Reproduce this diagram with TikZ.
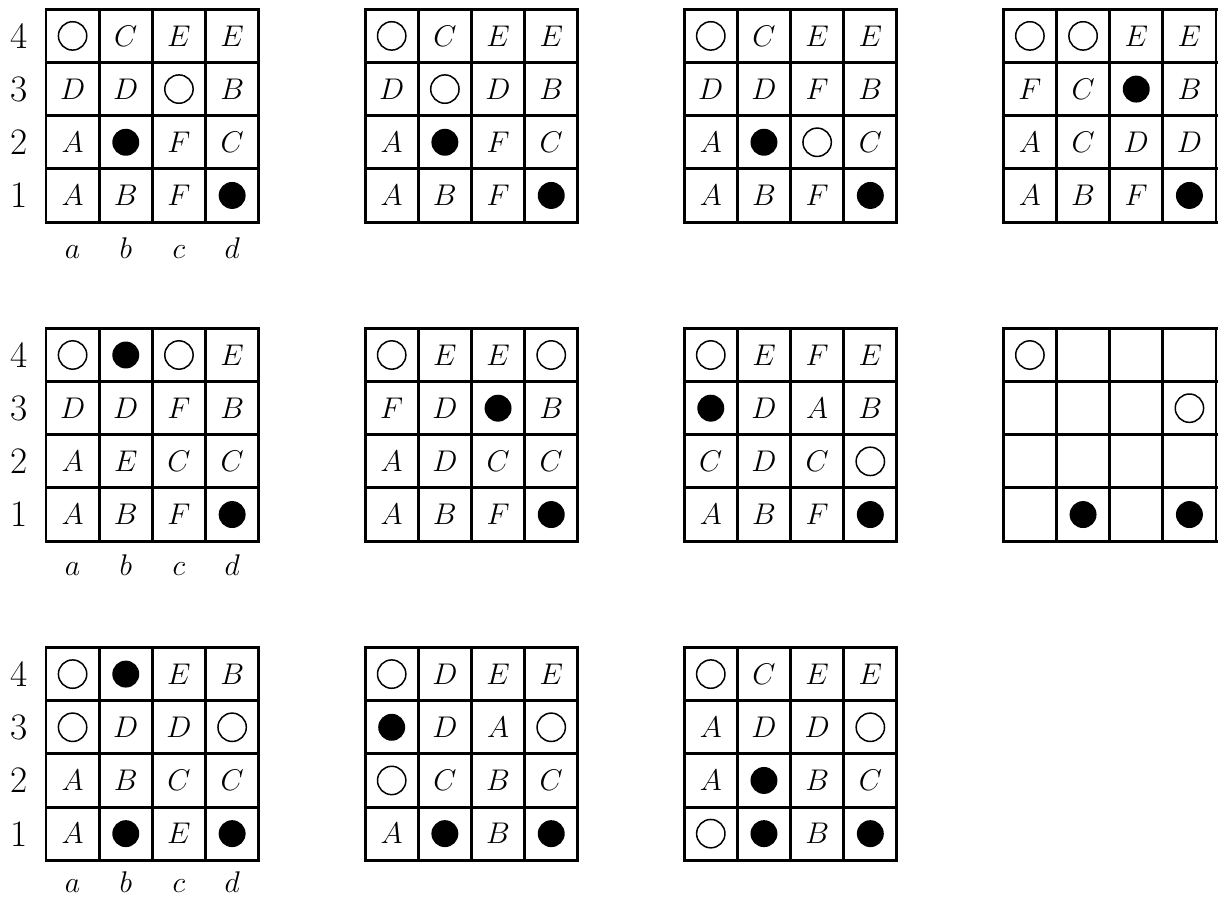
\documentclass[tikz,border=0pt]{standalone}
\usepackage{amsmath,amssymb}
\usepackage{tikz}

\begin{document}
\begin{tikzpicture}[x=.75cm,y=.75cm,every node/.style={font=\fontsize{12.5}{15}\selectfont},
  gridline/.style={line width=1.2pt,line cap=rect,step=.75cm},
  rowlabel/.style={font=\fontsize{15}{18}\selectfont}]
  \useasboundingbox (-0.865,-12.825) rectangle (22.075,4.175);
  \def\wmark{o}\def\bmark{x}\def\emark{-}
  \foreach \bx/\by/\cells [count=\k] in {
    0/0/{o,C,E,E,D,D,o,B,A,x,F,C,A,B,F,x},
    6/0/{o,C,E,E,D,o,D,B,A,x,F,C,A,B,F,x},
    12/0/{o,C,E,E,D,D,F,B,A,x,o,C,A,B,F,x},
    18/0/{o,o,E,E,F,C,x,B,A,C,D,D,A,B,F,x},
    0/-6/{o,x,o,E,D,D,F,B,A,E,C,C,A,B,F,x},
    6/-6/{o,E,E,o,F,D,x,B,A,D,C,C,A,B,F,x},
    12/-6/{o,E,F,E,x,D,A,B,C,D,C,o,A,B,F,x},
    18/-6/{o,-,-,-,-,-,-,o,-,-,-,-,-,x,-,x},
    0/-12/{o,x,E,B,o,D,D,o,A,B,C,C,A,x,E,x},
    6/-12/{o,D,E,E,x,D,A,o,o,C,B,C,A,x,B,x},
    12/-12/{o,C,E,E,A,D,D,o,A,x,B,C,o,x,B,x}}{
    \draw[gridline] (\bx,\by) grid (\bx+4,\by+4);
    \foreach \c [count=\i from 0] in \cells {
      \pgfmathtruncatemacro\col{mod(\i,4)}
      \pgfmathtruncatemacro\row{3-int(\i/4)}
      \coordinate (b\k-\i) at (\bx+\col+.5,\by+\row+.5);
      \ifx\c\wmark \draw[line width=.6pt] (b\k-\i) circle (.2cm);
      \else\ifx\c\bmark \fill (b\k-\i) circle (.19cm);
      \else\ifx\c\emark
      \else \node (n\k-\i) at (b\k-\i) {$\c$};
      \fi\fi\fi
    }
  }
  % file and rank labels
  \foreach \by/\ly [count=\r] in {0/.69,-6/.645,-12/.61}{
    \foreach \t [count=\j] in {a,b,c,d}
      \node[anchor=base] (file\r-\j) at (\j-.5,\by-\ly) {$\t$};
    \foreach \j in {1,...,4}
      \node[rowlabel] (rank\r-\j) at (-.5,\by+\j-.5) {\j};
  }
\end{tikzpicture}
\end{document}
